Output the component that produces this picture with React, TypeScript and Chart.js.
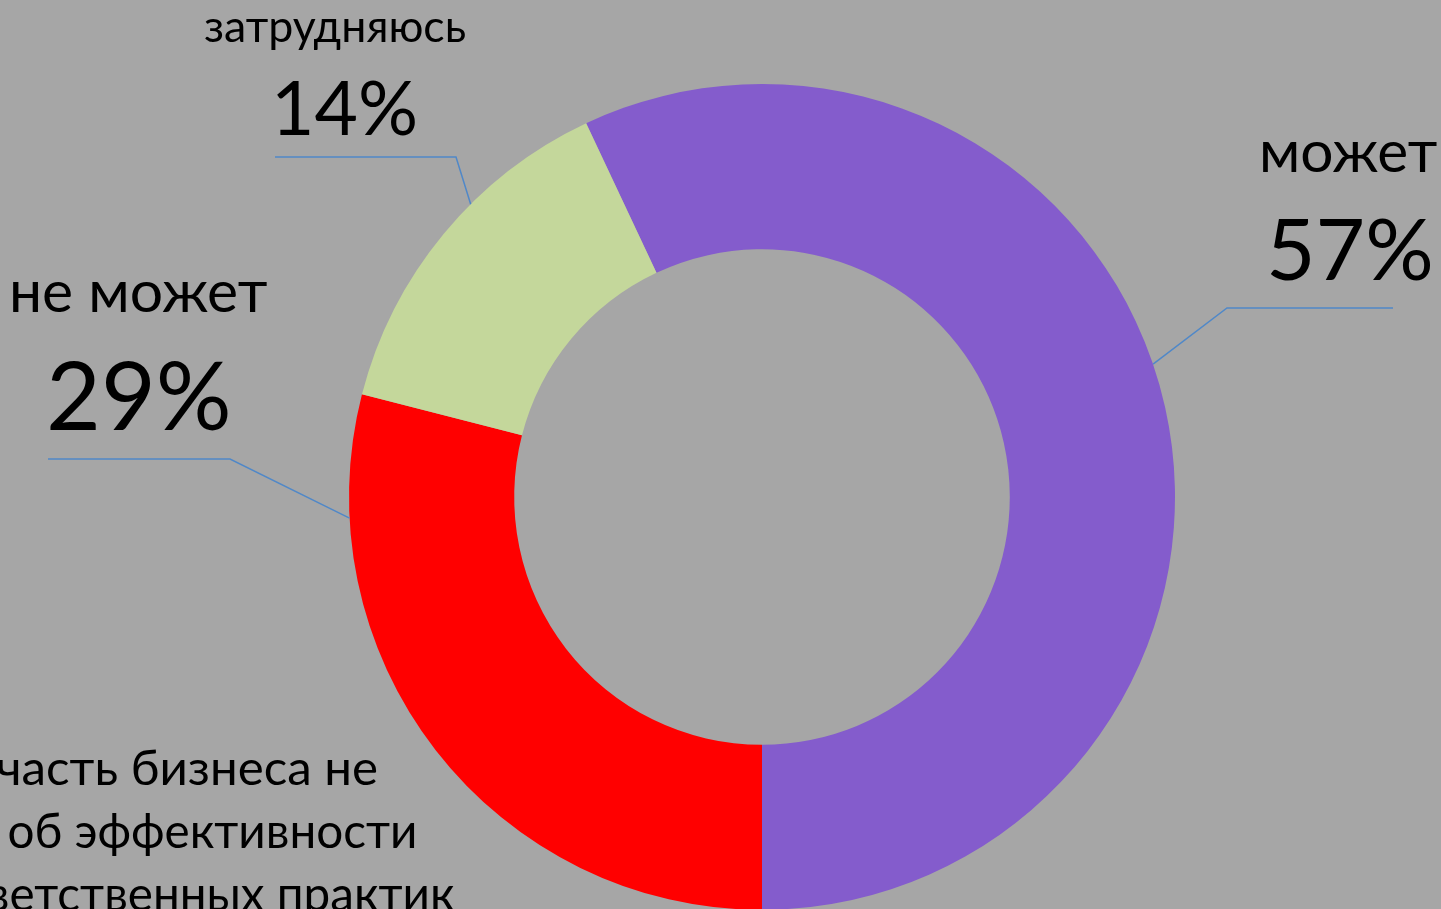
import React, { useEffect, useRef } from 'react';
import { Chart, registerables } from 'chart.js';

Chart.register(...registerables);

const categories = ['может', 'не может', 'затрудняюсь'];
const values = [57, 29, 14];
const sliceColors = ['#845ccc', '#ff0000', '#c4d79b'];
const footnoteLines = ['Большая часть бизнеса не', 'знает об эффективности', 'ответственных практик'];
const footnoteFitParts = ['часть бизнеса не', 'об эффективности', 'об эффективности'];

const FONT = 'Lato, "Open Sans", sans-serif';
const BG = '#a6a6a6';
const LEADER = '#5088c8';

// layout of labels (pixel boxes) per slice
const labelLayout = [
  { name: { l: 1263, r: 1437, b: 172 }, pct: { l: 1270, r: 1430, b: 280 }, frac: 0.47, bend: [1227, 308], end: [1393, 308] },
  { name: { l: 13, r: 267, b: 312 }, pct: { l: 50, r: 228, b: 430 }, frac: 0.834, bend: [230, 459], end: [48, 459] },
  { name: { l: 205, r: 465, b: 42 }, pct: { l: 277, r: 415, b: 135 }, frac: 0.61, bend: [456, 157], end: [275, 157] },
];

function fitText(ctx: CanvasRenderingContext2D, text: string, box: { l: number; r: number; b: number }) {
  ctx.font = `100px ${FONT}`;
  const m = ctx.measureText(text);
  const w = m.actualBoundingBoxLeft + m.actualBoundingBoxRight;
  const size = (100 * (box.r - box.l)) / w;
  ctx.font = `${size}px ${FONT}`;
  const m2 = ctx.measureText(text);
  ctx.textAlign = 'left';
  ctx.textBaseline = 'alphabetic';
  ctx.fillText(text, box.l + m2.actualBoundingBoxLeft, box.b);
}

const labelPlugin = {
  id: 'sliceLabels',
  afterDraw(chart: any) {
    const ctx: CanvasRenderingContext2D = chart.ctx;
    const meta = chart.getDatasetMeta(0);
    const total = values.reduce((a, b) => a + b, 0);
    ctx.save();
    meta.data.forEach((arc: any, i: number) => {
      const lay = labelLayout[i];
      const p = arc.getProps(['x', 'y', 'startAngle', 'endAngle', 'outerRadius'], true);
      const a = p.startAngle + (p.endAngle - p.startAngle) * lay.frac;
      const sx = p.x + Math.cos(a) * p.outerRadius;
      const sy = p.y + Math.sin(a) * p.outerRadius;
      ctx.strokeStyle = LEADER;
      ctx.lineWidth = 1.5;
      ctx.beginPath();
      ctx.moveTo(sx, sy);
      ctx.lineTo(lay.bend[0], lay.bend[1]);
      ctx.lineTo(lay.end[0], lay.end[1]);
      ctx.stroke();
      ctx.fillStyle = '#000';
      fitText(ctx, categories[i], lay.name);
      fitText(ctx, `${Math.round((values[i] / total) * 100)}%`, lay.pct);
    });
    // footnote text (clipped at left/bottom edge)
    const fitLeft = [-1, 10, 10];
    const rights = [377, 415, 455];
    const bases = [785, 848, 911];
    ctx.fillStyle = '#000';
    ctx.textAlign = 'left';
    ctx.textBaseline = 'alphabetic';
    footnoteLines.forEach((line, i) => {
      ctx.font = `100px ${FONT}`;
      const ref = ctx.measureText(footnoteFitParts[i]);
      const size = (100 * (415 - fitLeft[i] - (i === 0 ? 38 : 0))) / (ref.actualBoundingBoxLeft + ref.actualBoundingBoxRight);
      ctx.font = `${size}px ${FONT}`;
      const m = ctx.measureText(line);
      ctx.fillText(line, rights[i] - m.actualBoundingBoxRight, bases[i]);
    });
    ctx.restore();
  },
};

export default function App() {
  const ref = useRef<HTMLCanvasElement | null>(null);
  useEffect(() => {
    document.body.style.margin = '0';
    document.body.style.background = BG;
    const chart = new Chart(ref.current!, {
      type: 'doughnut',
      data: {
        labels: categories,
        datasets: [{ data: values, backgroundColor: sliceColors, borderWidth: 0, hoverOffset: 0 }],
      },
      options: {
        responsive: false,
        animation: false,
        rotation: -25.2,
        cutout: '60%',
        layout: { padding: { top: 84, bottom: 10, left: 349, right: 266 } },
        plugins: { legend: { display: false }, tooltip: { enabled: false } },
        events: [],
      },
      plugins: [labelPlugin],
    });
    return () => chart.destroy();
  }, []);
  return (
    <div style={{ width: 1441, height: 909, overflow: 'hidden', background: BG, position: 'relative' }}>
      <canvas ref={ref} width={1441} height={920} style={{ display: 'block' }} />
    </div>
  );
}
